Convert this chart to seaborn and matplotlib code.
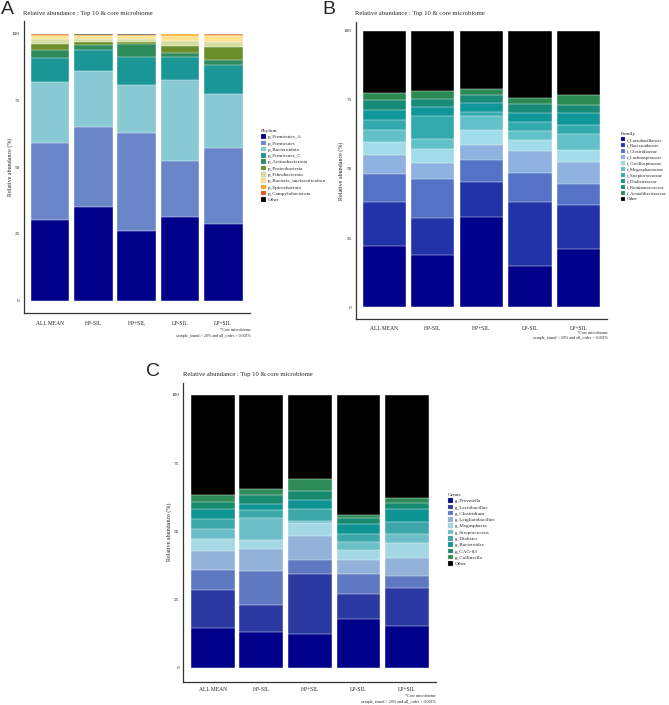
import numpy as np
import pandas as pd
import matplotlib
matplotlib.use("Agg")
import matplotlib.pyplot as plt
import seaborn as sns
from matplotlib.patches import Patch

sns.set_style("white")
plt.rcParams['font.family'] = ['Liberation Serif', 'DejaVu Serif']

samples = ["ALL MEAN", "HP-SIL", "HP+SIL", "LP-SIL", "LP+SIL"]

# ---------------- Panel A : Phylum ----------------
phylum_taxa = ["p_Firmicutes_A", "p_Firmicutes", "p_Bacteroidota", "p_Firmicutes_C",
               "p_Actinobacteriota", "p_Proteobacteria", "p_Fibrobacterota",
               "p_Bacteria_unclassification", "p_Spirochaetota", "p_Campylobacterota", "Other"]
phylum_colors = ["#00008B", "#6A86C8", "#88C9D4", "#1A9696", "#2E8B5C", "#6B8E2A",
                 "#D5DDA2", "#FFE28E", "#FFA81C", "#E0561E", "#000000"]
phylum_values = [
    [30.2, 29.0, 22.6, 9.2, 2.9, 2.2, 1.9, 1.1, 0.5, 0.1, 0.3],
    [35.1, 29.9, 20.9, 7.8, 2.2, 1.0, 1.0, 1.1, 0.4, 0.1, 0.5],
    [26.1, 36.6, 18.1, 10.5, 4.8, 0.7, 1.2, 1.1, 0.4, 0.1, 0.4],
    [31.5, 20.7, 30.5, 8.4, 1.5, 2.9, 1.9, 1.6, 0.8, 0.05, 0.15],
    [28.6, 28.7, 19.9, 10.9, 1.9, 5.0, 2.0, 2.0, 0.6, 0.05, 0.35],
]

# ---------------- Panel B : Family ----------------
family_taxa = ["f_Lactobacillaceae", "f_Bacteroidaceae", "f_Clostridiaceae", "f_Lachnospiraceae",
               "f_Oscillospiraceae", "f_Megasphaeraceae", "f_Streptococcaceae", "f_Dialisteraceae",
               "f_Ruminococcaceae", "f_Acutalibacteraceae", "Other"]
family_colors = ["#00008B", "#2233AA", "#5572C6", "#8FB2E0", "#A2DCE8", "#62C0C8",
                 "#33AAAE", "#0E9698", "#178A78", "#2A8A52", "#000000"]
family_values = [
    [22.1, 16.0, 10.2, 6.7, 4.7, 4.4, 3.6, 3.6, 3.6, 2.5, 22.6],
    [18.8, 13.5, 14.0, 5.7, 5.4, 3.5, 8.1, 3.3, 3.2, 2.7, 21.8],
    [32.6, 12.8, 7.8, 5.4, 5.5, 5.1, 1.5, 3.0, 3.0, 2.4, 20.9],
    [15.0, 22.9, 10.6, 8.1, 3.8, 3.3, 3.2, 3.2, 3.4, 2.1, 24.4],
    [21.2, 15.7, 7.7, 7.8, 4.5, 5.6, 3.4, 4.2, 3.1, 3.4, 23.4],
]

# ---------------- Panel C : Genus ----------------
genus_taxa = ["g_Prevotella", "g_Lactobacillus", "g_Clostridium", "g_Leigliatobacillus",
              "g_Megasphaera", "g_Streptococcus", "g_Dialister", "g_Bacteroides",
              "g_CAG-83", "g_Collinsella", "Other"]
genus_colors = ["#00008B", "#2B3AA2", "#5E78C2", "#92B2DA", "#A4D8E4", "#6CBEC8",
                "#3CA8AA", "#0F9494", "#178A70", "#2E8B57", "#000000"]
genus_values = [
    [14.7, 13.8, 7.3, 7.0, 4.4, 3.7, 3.7, 3.5, 2.5, 2.6, 36.8],
    [13.2, 9.8, 12.6, 7.9, 3.3, 8.1, 2.9, 2.2, 3.3, 2.1, 34.6],
    [12.3, 21.9, 5.4, 8.7, 4.8, 0.7, 4.4, 3.4, 3.3, 4.3, 30.8],
    [17.8, 9.2, 7.5, 5.1, 3.4, 3.0, 2.9, 3.8, 2.1, 1.2, 44.0],
    [15.4, 13.8, 4.4, 6.6, 5.5, 3.4, 4.3, 4.7, 2.2, 1.9, 37.8],
]

title_text = "Relative abundance : Top 10 & core microbiome"
ylabel_text = "Relative abundance (%)"
foot_text = "*Core microbiome\nsample_found > 20% and all_order > 0.001%"
yticks = [0, 25, 50, 75, 100]

W, H = 669, 705
fig = plt.figure(figsize=(W / 100, H / 100), dpi=100)


def px_axes(left, top, right, bottom):
    return fig.add_axes([left / W, 1 - bottom / H, (right - left) / W, (bottom - top) / H])


def draw_panel(box, xlim, ylim, taxa, colors, values, width, legend_title, legend_pos,
               letter, letter_pos, title_pos, ylabel_x, foot_pos, xtick_pad, leg_fs):
    ax = px_axes(*box)
    df = pd.DataFrame(values, index=samples, columns=taxa)
    cum = df.cumsum(axis=1)
    for i in range(len(taxa) - 1, -1, -1):
        d = pd.DataFrame({"sample": samples, "top": cum[taxa[i]].values})
        sns.barplot(data=d, x="sample", y="top", order=samples, color=colors[i],
                    saturation=1, width=width, edgecolor="white", linewidth=0.3,
                    ax=ax, errorbar=None)
    ax.set_xlim(*xlim)
    ax.set_ylim(*ylim)
    ax.set_yticks(yticks)
    ax.set_yticklabels([str(t) for t in yticks])
    ax.tick_params(axis="both", length=0, labelsize=4.0, colors="#222222")
    ax.tick_params(axis="y", pad=3, labelsize=3.8)
    ax.tick_params(axis="x", pad=xtick_pad)
    ax.set_xlabel("")
    ax.set_ylabel("")
    for s in ["top", "right"]:
        ax.spines[s].set_visible(False)
    for s in ["left", "bottom"]:
        ax.spines[s].set_color("#333333")
        ax.spines[s].set_linewidth(0.9)
    fig.text(ylabel_x / W, 1 - ((box[1] + box[3]) / 2) / H, ylabel_text, rotation=90,
             ha="center", va="center", fontsize=4.3)
    fig.text(title_pos[0] / W, 1 - title_pos[1] / H, title_text, ha="left", va="center",
             fontsize=4.8)
    fig.text(letter_pos[0] / W, 1 - letter_pos[1] / H, letter, ha="left", va="center",
             fontsize=14, family=["Liberation Sans", "DejaVu Sans"])
    fig.text(foot_pos[0] / W, 1 - foot_pos[1] / H, foot_text, ha="right", va="top",
             fontsize=3.0, linespacing=1.5)
    handles = [Patch(facecolor=c, edgecolor="#bbbbbb", linewidth=0.2) for c in colors]
    leg = fig.legend(handles, taxa, title=legend_title, loc="upper left",
                     bbox_to_anchor=(legend_pos[0] / W, 1 - legend_pos[1] / H),
                     frameon=False, fontsize=leg_fs, title_fontsize=3.9,
                     handlelength=1.0, handleheight=1.0, labelspacing=0.24,
                     handletextpad=0.4, borderpad=0, borderaxespad=0)
    leg._legend_box.align = "left"
    return ax


draw_panel((24, 21, 250, 313), (-0.6, 4.62), (-4.6, 104.7), phylum_taxa, phylum_colors,
           phylum_values, 0.894, "Phylum", (261, 129), "A", (1, 10), (23, 13.5), 10,
           (251, 328), 6, 3.7)
draw_panel((355.7, 21.7, 607, 319), (-0.59, 4.59), (-4.3, 103.3), family_taxa, family_colors,
           family_values, 0.893, "Family", (620.5, 132), "B", (322, 10), (355, 13.5), 341,
           (608, 331), 5, 3.45)
draw_panel((183.3, 382.7, 435.7, 681.7), (-0.605, 4.59), (-5.1, 104.5), genus_taxa, genus_colors,
           genus_values, 0.9, "Genus", (447.5, 493), "C", (146, 372), (183, 374.5), 169,
           (436, 694), 3.5, 3.7)

fig.savefig("out.png", dpi=100)
